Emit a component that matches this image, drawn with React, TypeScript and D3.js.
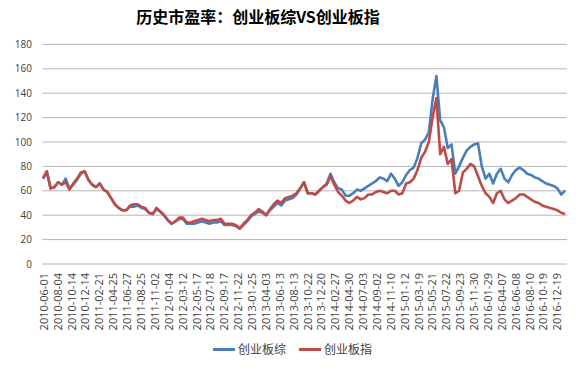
import React from "react";
import * as d3 from "d3";

const title = "历史市盈率：创业板综VS创业板指";
const seriesNames = ["创业板综", "创业板指"];
const seriesColors = ["#4a7ebb", "#be4b48"];

const tickLabels = [
  "2010-06-01", "2010-08-04", "2010-10-14", "2010-12-14", "2011-02-21", "2011-04-25", "2011-06-27",
  "2011-08-25", "2011-11-02", "2012-01-04", "2012-03-12", "2012-05-17", "2012-07-18", "2012-09-17",
  "2012-11-22", "2013-01-25", "2013-04-03", "2013-06-13", "2013-08-13", "2013-10-22", "2013-12-20",
  "2014-02-27", "2014-04-30", "2014-07-03", "2014-09-02", "2014-11-10", "2015-01-12", "2015-03-19",
  "2015-05-21", "2015-07-22", "2015-09-23", "2015-11-30", "2016-01-29", "2016-04-07", "2016-06-08",
  "2016-08-10", "2016-10-19", "2016-12-19",
];

// 创业板综 (composite)
const composite = [
  70, 76, 62, 63, 67, 65, 70, 62, 65, 69, 74, 76, 69, 65, 63, 66, 61, 59, 54, 49,
  46, 44, 44, 47, 47, 48, 46, 45, 42, 41, 45, 43, 40, 36, 33, 35, 37, 37, 33, 33,
  33, 34, 35, 34, 33, 34, 34, 35, 32, 32, 32, 31, 29, 32, 35, 39, 41, 43, 42, 40,
  44, 47, 50, 48, 52, 53, 54, 57, 62, 67, 58, 58, 57, 60, 63, 66, 74, 67, 62, 61,
  56, 56, 58, 61, 60, 62, 64, 66, 68, 71, 70, 68, 74, 70, 64, 67, 73, 77, 79, 87,
  99, 102, 108, 135, 154, 118, 112, 95, 98, 74, 80, 87, 93, 96, 98, 99, 80, 70, 74, 66,
  74, 78, 70, 67, 73, 77, 79, 77, 74, 73, 71, 70, 68, 66, 65, 64, 62, 57, 60,
];

// 创业板指 (index)
const indexPE = [
  70, 76, 62, 63, 67, 65, 67, 61, 66, 70, 75, 76, 69, 65, 63, 66, 61, 59, 54, 49,
  46, 44, 44, 48, 49, 49, 47, 46, 42, 41, 46, 43, 40, 36, 33, 35, 38, 38, 34, 34,
  35, 36, 37, 36, 35, 36, 36, 37, 33, 33, 33, 32, 29, 33, 36, 40, 42, 45, 43, 40,
  45, 49, 52, 50, 54, 55, 56, 58, 62, 67, 58, 58, 57, 60, 63, 65, 72, 65, 59, 56,
  52, 50, 52, 55, 53, 54, 57, 57, 59, 60, 59, 58, 60, 60, 57, 58, 66, 67, 70, 77,
  87, 92, 100, 120, 136, 90, 96, 82, 86, 58, 60, 75, 78, 82, 80, 72, 64, 58, 55, 50,
  58, 60, 53, 50, 52, 54, 57, 57, 55, 53, 51, 50, 48, 47, 46, 45, 44, 42, 41,
];

const yTicks = [0, 20, 40, 60, 80, 100, 120, 140, 160, 180];

export default function App() {
  const W = 585;
  const H = 369;
  const left = 43;
  const right = 565;
  const gridRight = 567;
  const n = composite.length;
  const x = d3.scaleLinear().domain([0, n - 1]).range([left, right]);
  const xLab = d3.scalePoint<string>().domain(tickLabels).range([44, 557.5]);
  const y = d3.scaleLinear().domain([0, 180]).range([264, 44.4]);
  const line = d3
    .line<number>()
    .x((_, i) => x(i))
    .y((d) => y(d))
    .curve(d3.curveLinear);
  const series = [composite, indexPE];

  return (
    <svg
      width={W}
      height={H}
      style={{ position: "absolute", left: 0, top: 0, background: "#fff" }}
    >
      <rect x={0} y={0} width={W} height={H} fill="#fff" />
      <text
        x={258}
        y={22.5}
        textAnchor="middle"
        fontFamily="'Noto Sans CJK SC', sans-serif"
        fontWeight="bold"
        fontSize={16}
        fill="#000"
      >
        {title}
      </text>
      {yTicks.map((t) => (
        <g key={t}>
          <line x1={left - 0.5} x2={gridRight} y1={y(t)} y2={y(t)} stroke="#b4b4b4" strokeWidth={1} />
          <text
            x={32}
            y={y(t)}
            dy="0.35em"
            textAnchor="end"
            fontFamily="'Open Sans', sans-serif"
            fontSize={10}
            fill="#404040"
          >
            {t}
          </text>
        </g>
      ))}
      {tickLabels.map((lab) => (
        <text
          key={lab}
          transform={`translate(${xLab(lab)},273) rotate(-90)`}
          dy="0.35em"
          textAnchor="end"
          fontFamily="'Open Sans', sans-serif"
          fontSize={11}
          fill="#404040"
        >
          {lab}
        </text>
      ))}
      {series.map((s, si) => (
        <path
          key={si}
          d={line(s) || ""}
          fill="none"
          stroke={seriesColors[si]}
          strokeWidth={2.6}
          strokeLinejoin="round"
        />
      ))}
      {seriesNames.map((name, si) => {
        const lx = si === 0 ? 213 : 299;
        return (
          <g key={name}>
            <line x1={lx} x2={lx + 22} y1={349.5} y2={349.5} stroke={seriesColors[si]} strokeWidth={3} />
            <text
              x={lx + 25}
              y={349.5}
              dy="0.35em"
              fontFamily="'Noto Sans CJK SC', sans-serif"
              fontSize={12}
              fill="#404040"
            >
              {name}
            </text>
          </g>
        );
      })}
    </svg>
  );
}
